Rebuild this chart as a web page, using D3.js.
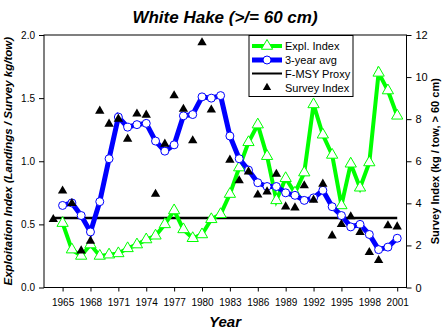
<!DOCTYPE html>
<html lang="en">
  <head>
    <meta charset="utf-8">
    <title>White Hake exploitation index</title>
    <script src="https://d3js.org/d3.v7.min.js"></script>
    <style>
      body { margin: 0; background: #fff; }
      svg text { font-family: "Liberation Sans", Arial, sans-serif; fill: #000; }
      .axis path, .axis line { stroke: #000; stroke-width: 1; }
      .axis text { font-size: 10px; }
    </style>
  </head>
  <body>
    <svg id="chart" width="447" height="334"></svg>

    <script type="text/javascript">
      // values by year
      var indexYears = d3.range(1965, 2002);
      var surveyYears = d3.range(1964, 2002);
      var explIndex = [0.51, 0.30, 0.25, 0.34, 0.25, 0.26, 0.27, 0.31, 0.34, 0.38,
                       0.41, 0.50, 0.61, 0.46, 0.39, 0.42, 0.54, 0.58, 0.74, 0.95,
                       1.15, 1.29, 1.04, 0.69, 0.865, 0.75, 0.91, 1.45, 1.21, 1.05,
                       0.65, 0.98, 0.79, 0.99, 1.70, 1.56, 1.36];
      var avg3 = [0.65, 0.67, 0.57, 0.44, 0.68, 1.02, 1.35, 1.27, 1.29, 1.30,
                  1.16, 1.08, 1.13, 1.36, 1.37, 1.51, 1.50, 1.52, 1.20, 1.02,
                  0.93, 0.83, 0.80, 0.80, 0.75, 0.73, 0.69, 0.71, 0.77, 0.64,
                  0.57, 0.48, 0.50, 0.42, 0.30, 0.32, 0.39];
      var surveyIndex = [3.24, 4.59, 4.0, 1.75, 2.21, 8.39, 7.77, 8.01, 7.06, 8.25,
                         8.2, 4.44, 6.82, 9.12, 8.48, 6.98, 11.64, 8.44, null, 6.06,
                         5.08, 5.5, 4.4, 4.55, 5.39, 3.84, 3.79, 4.84, 4.16, 4.92,
                         2.46, 3.0, 3.37, 2.62, 1.67, 1.29, 2.94, 2.89];
      var fmsyYears = [1964, 2001];
      var fmsyValue = 0.55;

      var xTicks = d3.range(1965, 2002, 3);
      var leftTicks = [0, 0.5, 1.0, 1.5, 2.0];
      var rightTicks = [0, 2, 4, 6, 8, 10, 12];

      var legendLabels = ["Expl. Index", "3-year avg", "F-MSY Proxy", "Survey Index"];

      var green = "#00ff00", blue = "#0000ff";

      var svg = d3.select("#chart");
      var plotLeft = 44, plotRight = 406.5, plotTop = 35, plotBottom = 287.5;

      var x = d3.scaleLinear().domain([1963, 2002]).range([plotLeft, plotRight]);
      var yL = d3.scaleLinear().domain([0, 2]).range([plotBottom, plotTop]);
      var yR = d3.scaleLinear().domain([0, 12]).range([plotBottom, plotTop]);

      // frame
      svg.append("rect")
        .attr("x", plotLeft).attr("y", plotTop)
        .attr("width", plotRight - plotLeft).attr("height", plotBottom - plotTop)
        .attr("fill", "none").attr("stroke", "#000");

      svg.append("g").attr("class", "axis")
        .attr("transform", "translate(0," + plotBottom + ")")
        .call(d3.axisBottom(x).tickValues(xTicks).tickFormat(d3.format("d")).tickSize(4).tickPadding(7))
        .call(function(g) { g.select(".domain").remove(); });

      svg.append("g").attr("class", "axis")
        .attr("transform", "translate(" + plotLeft + ",0)")
        .call(d3.axisLeft(yL).tickValues(leftTicks).tickFormat(d3.format(".1f")).tickSize(5).tickPadding(4))
        .call(function(g) { g.select(".domain").remove(); });

      svg.append("g").attr("class", "axis right")
        .attr("transform", "translate(" + plotRight + ",0)")
        .call(d3.axisRight(yR).tickValues(rightTicks).tickSize(5).tickPadding(4))
        .call(function(g) { g.select(".domain").remove(); });
      svg.selectAll(".right text").style("font-size", "11px");

      // F-MSY proxy
      svg.append("line")
        .attr("x1", x(fmsyYears[0])).attr("x2", x(fmsyYears[1]))
        .attr("y1", yL(fmsyValue)).attr("y2", yL(fmsyValue))
        .attr("stroke", "#000").attr("stroke-width", 2.5);

      var line = d3.line()
        .x(function(d) { return x(d.year); })
        .y(function(d) { return yL(d.value); });

      var explData = indexYears.map(function(yr, i) { return { year: yr, value: explIndex[i] }; });
      var avgData = indexYears.map(function(yr, i) { return { year: yr, value: avg3[i] }; });
      var surveyData = surveyYears.map(function(yr, i) { return { year: yr, value: surveyIndex[i] }; })
        .filter(function(d) { return d.value != null; });

      var tri = d3.symbol().type(d3.symbolTriangle);

      // Expl. Index
      svg.append("path").datum(explData)
        .attr("d", line).attr("fill", "none")
        .attr("stroke", green).attr("stroke-width", 4);
      svg.selectAll(".explPt").data(explData).enter().append("path")
        .attr("class", "explPt")
        .attr("d", tri.size(55))
        .attr("transform", function(d) { return "translate(" + x(d.year) + "," + yL(d.value) + ")"; })
        .attr("fill", "#fff").attr("stroke", green).attr("stroke-width", 1);

      // 3-year average
      svg.append("path").datum(avgData)
        .attr("d", line).attr("fill", "none")
        .attr("stroke", blue).attr("stroke-width", 5);
      svg.selectAll(".avgPt").data(avgData).enter().append("circle")
        .attr("class", "avgPt")
        .attr("cx", function(d) { return x(d.year); })
        .attr("cy", function(d) { return yL(d.value); })
        .attr("r", 4)
        .attr("fill", "#fff").attr("stroke", blue).attr("stroke-width", 1);

      // survey index on the right axis
      svg.selectAll(".surveyPt").data(surveyData).enter().append("path")
        .attr("class", "surveyPt")
        .attr("d", tri.size(38))
        .attr("transform", function(d) { return "translate(" + x(d.year) + "," + yR(d.value) + ")"; })
        .attr("fill", "#000");

      // legend
      var lg = svg.append("g").attr("transform", "translate(249,35.5)");
      lg.append("rect").attr("width", 104).attr("height", 61)
        .attr("fill", "#fff").attr("stroke", "#000");
      var rowY = [10.5, 24.5, 38, 52];
      lg.append("line").attr("x1", 3).attr("x2", 33).attr("y1", rowY[0]).attr("y2", rowY[0])
        .attr("stroke", green).attr("stroke-width", 4);
      lg.append("path").attr("d", tri.size(55))
        .attr("transform", "translate(18," + rowY[0] + ")")
        .attr("fill", "#fff").attr("stroke", green);
      lg.append("line").attr("x1", 3).attr("x2", 33).attr("y1", rowY[1]).attr("y2", rowY[1])
        .attr("stroke", blue).attr("stroke-width", 5);
      lg.append("circle").attr("cx", 18).attr("cy", rowY[1]).attr("r", 4)
        .attr("fill", "#fff").attr("stroke", blue);
      lg.append("line").attr("x1", 3).attr("x2", 33).attr("y1", rowY[2]).attr("y2", rowY[2])
        .attr("stroke", "#000").attr("stroke-width", 2);
      lg.append("path").attr("d", tri.size(30))
        .attr("transform", "translate(18," + rowY[3] + ")")
        .attr("fill", "#000");
      lg.selectAll(".lgText").data(legendLabels).enter().append("text")
        .attr("x", 36)
        .attr("y", function(d, i) { return rowY[i] + 4; })
        .style("font-size", "11px")
        .text(function(d) { return d; });

      // titles
      svg.append("text")
        .attr("x", 225).attr("y", 23)
        .attr("text-anchor", "middle")
        .style("font-size", "17px").style("font-weight", "bold").style("font-style", "italic")
        .text("White Hake (>/= 60 cm)");

      svg.append("text")
        .attr("x", 225).attr("y", 327)
        .attr("text-anchor", "middle")
        .style("font-size", "15px").style("font-weight", "bold").style("font-style", "italic")
        .text("Year");

      svg.append("text")
        .attr("transform", "translate(12," + ((plotTop + plotBottom) / 2) + ") rotate(-90)")
        .attr("text-anchor", "middle")
        .style("font-size", "11.5px").style("font-weight", "bold").style("font-style", "italic")
        .text("Exploitation Index (Landings / Survey kg/tow)");

      svg.append("text")
        .attr("transform", "translate(439," + ((plotTop + plotBottom) / 2) + ") rotate(-90)")
        .attr("text-anchor", "middle")
        .style("font-size", "11px").style("font-weight", "bold")
        .text("Survey Index (kg / tow, > 60 cm)");
    </script>
  </body>
</html>
